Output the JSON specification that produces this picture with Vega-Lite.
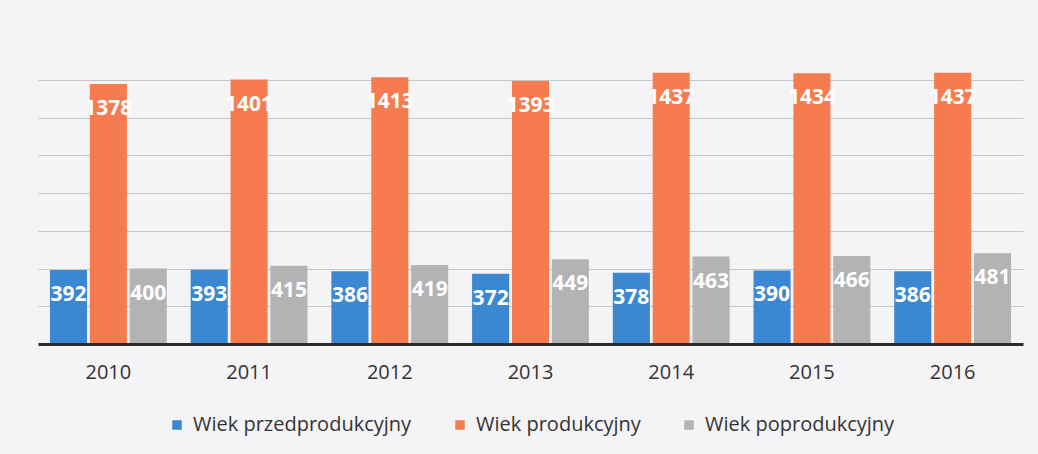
{
  "$schema": "https://vega.github.io/schema/vega-lite/v6.json",
  "width": 985,
  "height": 302,
  "autosize": {"type": "none"},
  "padding": {"left": 38, "top": 42, "right": 15, "bottom": 110},
  "background": "#f4f3f6",
  "config": {
    "view": {"stroke": null},
    "font": "Open Sans",
    "legend": {"layout": {"bottom": {"anchor": "middle"}}}
  },
  "data": {
    "values": [
      {"rok": "2010", "grupa": "Wiek przedprodukcyjny", "wartosc": 392},
      {"rok": "2010", "grupa": "Wiek produkcyjny", "wartosc": 1378},
      {"rok": "2010", "grupa": "Wiek poprodukcyjny", "wartosc": 400},
      {"rok": "2011", "grupa": "Wiek przedprodukcyjny", "wartosc": 393},
      {"rok": "2011", "grupa": "Wiek produkcyjny", "wartosc": 1401},
      {"rok": "2011", "grupa": "Wiek poprodukcyjny", "wartosc": 415},
      {"rok": "2012", "grupa": "Wiek przedprodukcyjny", "wartosc": 386},
      {"rok": "2012", "grupa": "Wiek produkcyjny", "wartosc": 1413},
      {"rok": "2012", "grupa": "Wiek poprodukcyjny", "wartosc": 419},
      {"rok": "2013", "grupa": "Wiek przedprodukcyjny", "wartosc": 372},
      {"rok": "2013", "grupa": "Wiek produkcyjny", "wartosc": 1393},
      {"rok": "2013", "grupa": "Wiek poprodukcyjny", "wartosc": 449},
      {"rok": "2014", "grupa": "Wiek przedprodukcyjny", "wartosc": 378},
      {"rok": "2014", "grupa": "Wiek produkcyjny", "wartosc": 1437},
      {"rok": "2014", "grupa": "Wiek poprodukcyjny", "wartosc": 463},
      {"rok": "2015", "grupa": "Wiek przedprodukcyjny", "wartosc": 390},
      {"rok": "2015", "grupa": "Wiek produkcyjny", "wartosc": 1434},
      {"rok": "2015", "grupa": "Wiek poprodukcyjny", "wartosc": 466},
      {"rok": "2016", "grupa": "Wiek przedprodukcyjny", "wartosc": 386},
      {"rok": "2016", "grupa": "Wiek produkcyjny", "wartosc": 1437},
      {"rok": "2016", "grupa": "Wiek poprodukcyjny", "wartosc": 481}
    ]
  },
  "encoding": {
    "x": {
      "field": "rok",
      "type": "ordinal",
      "scale": {"paddingInner": 0.17, "paddingOuter": 0.085},
      "axis": {
        "title": null,
        "labelAngle": 0,
        "labelFontSize": 20,
        "labelColor": "#333333",
        "labelPadding": 18,
        "ticks": false,
        "domainColor": "#2b2b2b",
        "domainWidth": 3,
        "zindex": 1
      }
    },
    "xOffset": {
      "field": "grupa",
      "sort": ["Wiek przedprodukcyjny", "Wiek produkcyjny", "Wiek poprodukcyjny"],
      "scale": {"paddingInner": 0.07, "paddingOuter": 0}
    },
    "y": {
      "field": "wartosc",
      "type": "quantitative",
      "scale": {"domain": [0, 1600]},
      "axis": {
        "title": null,
        "labels": false,
        "ticks": false,
        "domain": false,
        "values": [200, 400, 600, 800, 1000, 1200, 1400],
        "gridColor": "#c6c5c8",
        "gridWidth": 1
      }
    }
  },
  "layer": [
    {
      "mark": {"type": "bar"},
      "encoding": {
        "color": {
          "field": "grupa",
          "type": "nominal",
          "sort": ["Wiek przedprodukcyjny", "Wiek produkcyjny", "Wiek poprodukcyjny"],
          "scale": {
            "domain": ["Wiek przedprodukcyjny", "Wiek produkcyjny", "Wiek poprodukcyjny"],
            "range": ["#3b87d2", "#f67c50", "#b3b2b4"]
          },
          "legend": {
            "title": null,
            "orient": "bottom",
            "direction": "horizontal",
            "symbolType": "square",
            "symbolSize": 90,
            "symbolStrokeWidth": 0,
            "labelFontSize": 20,
            "labelOffset": 6,
            "labelLimit": 0,
            "labelColor": "#333333",
            "columnPadding": 38,
            "offset": 33
          }
        }
      }
    },
    {
      "mark": {
        "type": "text",
        "baseline": "middle",
        "dy": 25,
        "color": "white",
        "fontWeight": "bold",
        "fontSize": 21
      },
      "encoding": {
        "text": {"field": "wartosc", "type": "quantitative"}
      }
    }
  ]
}
